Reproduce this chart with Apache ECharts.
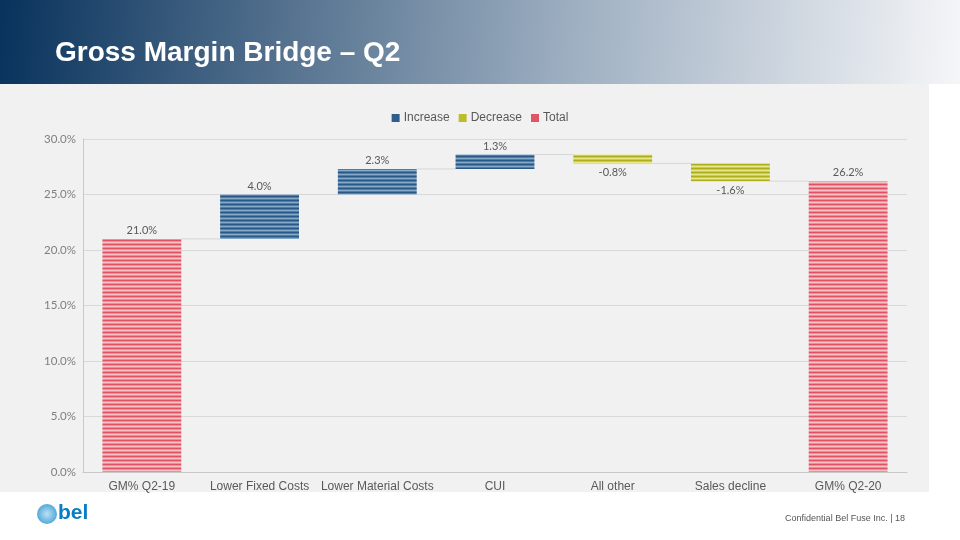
<!DOCTYPE html>
<html>
<head>
<meta charset="utf-8">
<script src="https://cdn.jsdelivr.net/npm/echarts@6/dist/echarts.min.js"></script>
<style>
html,body{margin:0;padding:0;background:#fff;}
#c{width:960px;height:540px;}
</style>
</head>
<body>
<div id="c"></div>
<script>
const categories = ['GM% Q2-19','Lower Fixed Costs','Lower Material Costs','CUI','All other','Sales decline','GM% Q2-20'];
const changes = [21.0, 4.0, 2.3, 1.3, -0.8, -1.6, 26.2];
const kinds = ['total','inc','inc','inc','dec','dec','total'];
const yTicks = {min:0, max:30, interval:5};

function stripe(dark, light, mid){
  const cv = document.createElement('canvas');
  cv.width = 4; cv.height = 4;
  const g = cv.getContext('2d');
  g.fillStyle = mid; g.fillRect(0,0,4,4);
  g.fillStyle = dark; g.fillRect(0,0,4,1);
  g.fillStyle = light; g.fillRect(0,2,4,1);
  return {image: cv, repeat: 'repeat'};
}
const blueP = stripe('#2a5884','#86aacb','#4f7eab');
const yellowP = stripe('#adad20','#e8e888','#cccc48');
const redP = stripe('#dc5362','#f8c0c6','#ec8f99');

// waterfall computation
const base = [], inc = [], dec = [], tot = [], levels = [];
let run = 0;
for (let i = 0; i < changes.length; i++) {
  const v = changes[i], k = kinds[i];
  if (k === 'total') { base.push(0); tot.push(v); inc.push('-'); dec.push('-'); run = v; }
  else if (k === 'inc') { base.push(run); inc.push(v); tot.push('-'); dec.push('-'); run = +(run + v).toFixed(2); }
  else { run = +(run + v).toFixed(2); base.push(run); dec.push(-v); inc.push('-'); tot.push('-'); }
  levels.push(run);
}
const connectors = [];
for (let i = 0; i < categories.length - 1; i++) connectors.push([i, levels[i]]);

const labelStyle = {color:'#595959', fontFamily:'Lato, "Open Sans", sans-serif', fontSize:11};
const fmt = p => (changes[p.dataIndex] < 0 ? '-' : '') + Math.abs(changes[p.dataIndex]).toFixed(1) + '%';

const chart = echarts.init(document.getElementById('c'), null, {renderer:'canvas'});
chart.setOption({
  animation: false,
  backgroundColor: '#ffffff',
  graphic: [
    {type:'rect', z:-10, shape:{x:0,y:0,width:960,height:84},
      style:{fill:new echarts.graphic.LinearGradient(0,0,1,1,[
        {offset:0,color:'#08325c'},{offset:0.3,color:'#55728f'},{offset:0.6,color:'#9fb0c2'},{offset:1,color:'#f5f6f8'}])}},
    {type:'rect', z:-10, shape:{x:0,y:84,width:929,height:408}, style:{fill:'#f1f1f1'}},
    {type:'text', left:55, top:39, style:{text:'Gross Margin Bridge – Q2', fill:'#ffffff',
      fontFamily:'"Liberation Sans", Arial, sans-serif', fontWeight:'bold', fontSize:28}},
    {type:'circle', shape:{cx:47, cy:514, r:10}, style:{fill:new echarts.graphic.RadialGradient(0.5,0.5,0.6,[
      {offset:0,color:'#bfe0f3'},{offset:1,color:'#3e9fd5'}])}},
    {type:'text', left:58, top:503, style:{text:'bel', fill:'#0a7cc2',
      fontFamily:'"Liberation Sans", Arial, sans-serif', fontWeight:'bold', fontSize:21}},
    {type:'text', right:55, top:514, style:{text:'Confidential Bel Fuse Inc. | 18', fill:'#555555',
      fontFamily:'"Liberation Sans", Arial, sans-serif', fontSize:9}}
  ],
  legend: {
    top: 107, left: 'center', itemWidth: 8, itemHeight: 8, itemGap: 9, icon: 'rect',
    textStyle: {color:'#595959', fontFamily:'"Liberation Sans", Arial, sans-serif', fontSize:12, padding:[0,0,0,-1]},
    data: [
      {name:'Increase', itemStyle:{color:'#2e5f8c'}},
      {name:'Decrease', itemStyle:{color:'#bcbc2c'}},
      {name:'Total', itemStyle:{color:'#e05563'}}
    ]
  },
  grid: {left:83, right:53, top:139, bottom:68},
  xAxis: {
    type:'category', data: categories,
    axisLine:{lineStyle:{color:'#c8c8c8'}}, axisTick:{show:false},
    axisLabel:{color:'#595959', fontFamily:'"Liberation Sans", Arial, sans-serif', fontSize:12, margin:9, interval:0}
  },
  yAxis: {
    type:'value', min:yTicks.min, max:yTicks.max, interval:yTicks.interval,
    axisLine:{show:true, lineStyle:{color:'#c8c8c8'}}, axisTick:{show:false},
    splitLine:{lineStyle:{color:'#d9d9d9'}},
    axisLabel:{color:'#7f7f7f', fontFamily:'Lato, "Open Sans", sans-serif', fontSize:11.5, margin:7,
      formatter: v => v.toFixed(1) + '%'}
  },
  series: [
    {name:'base', type:'bar', stack:'w', data: base, barWidth:'67%', itemStyle:{color:'transparent'}, silent:true},
    {name:'Increase', type:'bar', stack:'w', data: inc, itemStyle:{color: blueP},
      label:{show:true, position:'top', distance:3, formatter: fmt, ...labelStyle}},
    {name:'Decrease', type:'bar', stack:'w', data: dec, itemStyle:{color: yellowP},
      label:{show:true, position:'bottom', distance:4, formatter: fmt, ...labelStyle}},
    {name:'Total', type:'bar', stack:'w', data: tot, itemStyle:{color: redP},
      label:{show:true, position:'top', distance:3, formatter: fmt, ...labelStyle}},
    {name:'conn', type:'custom', data: connectors, z:1,
      renderItem: (params, api) => {
        const i = api.value(0), lv = api.value(1);
        const p1 = api.coord([i, lv]), p2 = api.coord([i+1, lv]);
        const half = api.size([1,0])[0] * 0.67 / 2;
        return {type:'line', shape:{x1:p1[0]+half, y1:p1[1], x2:p2[0]-half, y2:p2[1]},
          style:{stroke:'#d6d6d6', lineWidth:1}};
      }}
  ]
});
</script>
</body>
</html>
